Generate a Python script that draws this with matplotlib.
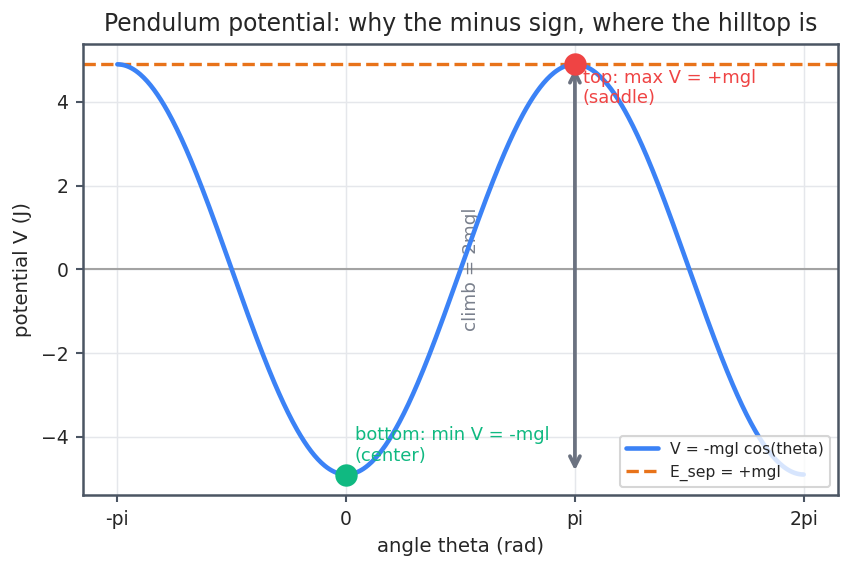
import numpy as np
import matplotlib
matplotlib.use("Agg")
import matplotlib.pyplot as plt
import seaborn as sns

sns.set_theme(style="ticks")
plt.rcParams['font.family'] = ['DejaVu Sans']

# parameters of the chart
mgl = 4.9
theta_min, theta_max = -np.pi, 2 * np.pi
tick_pos = [-np.pi, 0, np.pi, 2 * np.pi]
tick_labels = ["-pi", "0", "pi", "2pi"]
theta = np.linspace(theta_min, theta_max, 600)
V = -mgl * np.cos(theta)

fig, ax = plt.subplots(figsize=(856 / 150, 569 / 150), dpi=150)

ax.axhline(0, color="#a3a3a3", lw=1.0, zorder=1)
ax.plot(theta, V, color="#3b82f6", lw=2.2, label="V = -mgl cos(theta)", zorder=3)
ax.axhline(mgl, color="#e8731a", lw=1.6, ls="--", label="E_sep = +mgl", zorder=2)

ax.scatter([0], [-mgl], s=95, color="#10b981", zorder=5)
ax.scatter([np.pi], [mgl], s=95, color="#ef4444", zorder=5)

ax.annotate("", xy=(np.pi, -mgl), xytext=(np.pi, mgl),
            arrowprops=dict(arrowstyle="<->", lw=1.8, color="#6b7280"), zorder=4)
ax.text(np.pi / 2 + 0.15, 0, "climb = 2mgl", rotation=90, ha="center", va="center",
        color="#6b7280", alpha=0.9, fontsize=8.8, zorder=2)

ax.text(np.pi + 0.11, 4.8, "top: max V = +mgl\n(saddle)", color="#ef4444",
        fontsize=8.6, ha="left", va="top", zorder=6)
ax.text(0.12, -4.67, "bottom: min V = -mgl\n(center)", color="#10b981",
        fontsize=8.6, ha="left", va="bottom", zorder=6)

ax.set_xticks(tick_pos)
ax.set_xticklabels(tick_labels)
ax.set_xlabel("angle theta (rad)", fontsize=9.5)
ax.set_ylabel("potential V (J)", fontsize=9.5)
ax.set_title("Pendulum potential: why the minus sign, where the hilltop is", fontsize=11.3)
ax.grid(True, color="#e5e7eb", lw=0.7)
ax.tick_params(labelsize=9, length=3.5, width=1.0, color="#4b5563")
for s in ax.spines.values():
    s.set_color("#4b5563")
    s.set_linewidth(1.2)

ax.legend(loc="lower right", fontsize=7.5, frameon=True)

fig.subplots_adjust(left=0.097, right=0.979, top=0.923, bottom=0.13)
fig.savefig("out.png", dpi=150)
